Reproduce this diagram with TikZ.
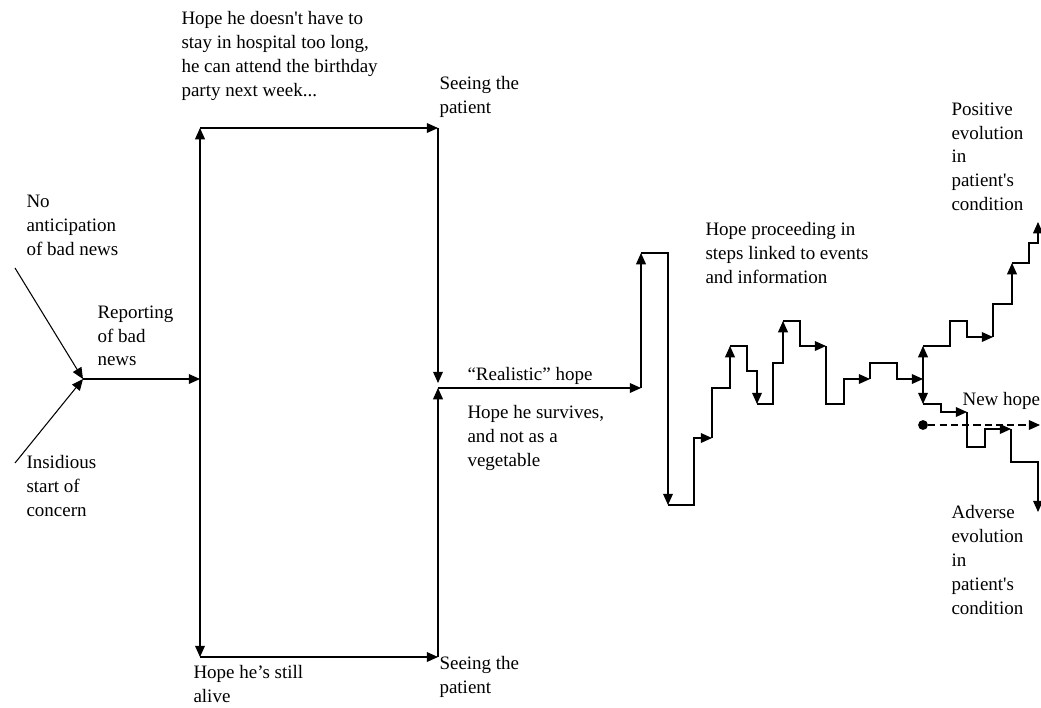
\documentclass[tikz,border=0pt]{standalone}
\usepackage{fontspec}
\setmainfont{Liberation Serif}[Ligatures=TeXOff]
\usetikzlibrary{arrows.meta}

\begin{document}
\begin{tikzpicture}[x=0.711pt,y=-0.711pt,line width=0.75pt]
        \tikzstyle{arrow}=[-{Triangle[length=8pt,width=7pt]}];
        \tikzstyle{txt}=[anchor=north west,inner sep=0pt,align=left,font=\fontsize{13.5}{17}\selectfont,execute at begin node=\strut];
        \useasboundingbox (0,0) rectangle (1041,707);

        % labels
        \node[txt] (v1) at (26,195) {No\\anticipation\\of bad news};
        \node[txt] (v2) at (97,305) {Reporting\\of bad\\news};
        \node[txt] (v3) at (26,455) {Insidious\\start of\\concern};
        \node[txt] (v4) at (181,11) {Hope he doesn't have to\\stay in hospital too long,\\he can attend the birthday\\party next week...};
        \node[txt] (v5) at (439,76) {Seeing the\\patient};
        \node[txt] (v6) at (467,363) {“Realistic” hope};
        \node[txt] (v7) at (467,405) {Hope he survives,\\and not as a\\vegetable};
        \node[txt] (v8) at (705,222) {Hope proceeding in\\steps linked to events\\and information};
        \node[txt] (v9) at (951,102) {Positive\\evolution\\in\\patient's\\condition};
        \node[txt] (v10) at (962,388) {New hope};
        \node[txt] (v11) at (951,505) {Adverse\\evolution\\in\\patient's\\condition};
        \node[txt] (v12) at (193,665) {Hope he’s still\\alive};
        \node[txt] (v13) at (439,656) {Seeing the\\patient};

        % left part
        \coordinate (c1) at (15,268);
        \coordinate (c2) at (15,463);
        \coordinate (c3) at (83,379);
        \coordinate (c4) at (200,379);
        \coordinate (c5) at (200,128);
        \coordinate (c6) at (200,657);
        \coordinate (c7) at (438,128);
        \coordinate (c8) at (438,657);
        \coordinate (c9) at (438,383);
        \coordinate (c10) at (438,388);
        \draw [arrow] (c1) -- (c3);
        \draw [arrow] (c2) -- (c3);
        \draw [arrow] (c3) -- (c4);
        \draw [arrow] (c4) -- (c5);
        \draw [arrow] (c4) -- (c6);
        \draw [arrow] (c5) -- (c7);
        \draw [arrow] (c6) -- (c8);
        \draw [arrow] (c7) -- (c9);
        \draw [arrow] (c8) -- (c10);

        % steps
        \coordinate (s1) at (641,388);
        \coordinate (s2) at (641,253);
        \coordinate (s3) at (668,505);
        \coordinate (s4) at (694,438);
        \coordinate (s5) at (712,438);
        \coordinate (s6) at (730,388);
        \coordinate (s7) at (730,346);
        \coordinate (s8) at (747,371);
        \coordinate (s9) at (757,404);
        \coordinate (s10) at (773,363);
        \coordinate (s11) at (783,321);
        \coordinate (s12) at (800,346);
        \coordinate (s13) at (826,346);
        \coordinate (s14) at (844,404);
        \coordinate (s15) at (870,379);
        \coordinate (s16) at (897,363);
        \coordinate (s17) at (923,379);
        \coordinate (s18) at (923,346);
        \coordinate (s19) at (923,404);
        \draw [arrow] (c10) -- (s1);
        \draw [arrow] (s1) -- (s2);
        \draw [arrow] (s2) -| (s3);
        \draw [arrow] (s3) -| (s4) -- (s5);
        \draw [arrow] (s5) |- (s6) -- (s7);
        \draw [arrow] (s7) -| (s8) -| (s9);
        \draw [arrow] (s9) -| (s10) -| (s11);
        \draw [arrow] (s11) -| (s12) -- (s13);
        \draw [arrow] (s13) |- (s14) |- (s15);
        \draw [arrow] (s15) |- (s16) |- (s17);
        \draw [arrow] (s17) -- (s18);
        \draw [arrow] (s17) -- (s19);

        % positive evolution
        \coordinate (u1) at (950,321);
        \coordinate (u2) at (967,337);
        \coordinate (u3) at (993,337);
        \coordinate (u4) at (1012,304);
        \coordinate (u5) at (1012,263);
        \coordinate (u6) at (1029,243);
        \coordinate (u7) at (1038,222);
        \draw [arrow] (s18) -| (u1) -| (u2) -- (u3);
        \draw [arrow] (u3) |- (u4) -- (u5);
        \draw [arrow] (u5) -| (u6) -| (u7);

        % adverse evolution
        \coordinate (d1) at (941,412);
        \coordinate (d2) at (967,412);
        \coordinate (d3) at (985,447);
        \coordinate (d4) at (1011,429);
        \coordinate (d5) at (1038,462);
        \coordinate (d6) at (1038,512);
        \draw [arrow] (s19) -| (d1) -- (d2);
        \draw [arrow] (d2) |- (d3) |- (d4);
        \draw [arrow] (d4) |- (d5) -- (d6);

        % new hope
        \node[circle,fill,inner sep=0pt,minimum size=7pt] (e0) at (923,425) {};
        \coordinate (e1) at (1040,425);
        \draw [arrow,dashed,dash pattern=on 5pt off 3pt] (e0) -- (e1);
\end{tikzpicture}
\end{document}
